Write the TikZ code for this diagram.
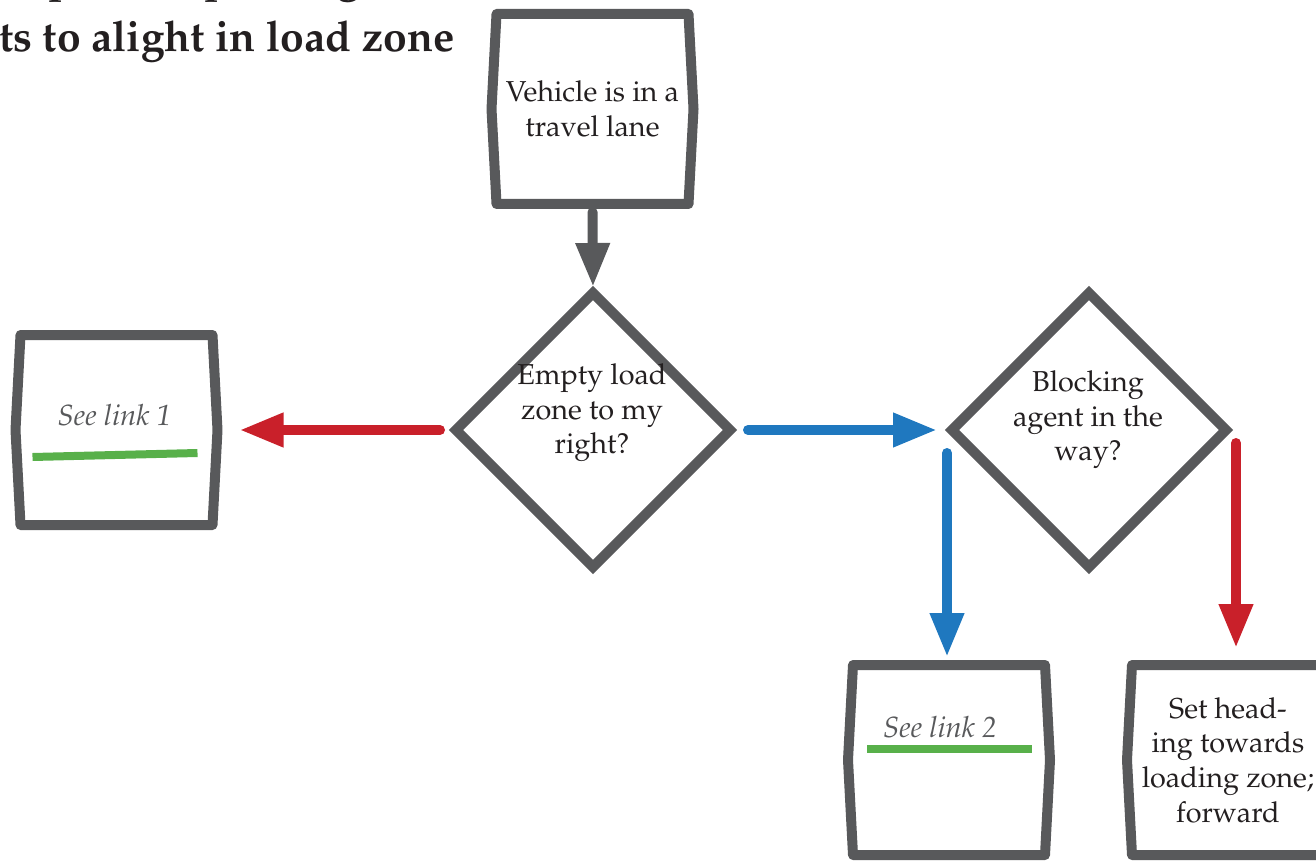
\documentclass[tikz,border=0pt]{standalone}
\usepackage[T1]{fontenc}
\renewcommand{\rmdefault}{ppl}
\usetikzlibrary{shapes.geometric,arrows.meta,calc}
\definecolor{boxgray}{HTML}{58595B}
\definecolor{yesblue}{HTML}{1F78BF}
\definecolor{nored}{HTML}{C9202A}
\definecolor{linkgreen}{HTML}{58B04A}
\definecolor{inkblack}{HTML}{231F20}
\tikzset{
  procbox/.style={rectangle, minimum width=96pt, minimum height=95pt, inner sep=0pt, outer sep=0pt,
    align=center, text=inkblack, font=\fontsize{14.4}{17.3}\selectfont},
  boxline/.style={draw=boxgray, line width=5pt, line join=round},
  decision/.style={diamond, draw=boxgray, line width=5pt, minimum width=137pt, minimum height=137pt,
    inner sep=0pt, outer sep=0pt},
  dectext/.style={align=center, inner sep=0pt, text=inkblack, font=\fontsize{14.4}{17.3}\selectfont},
  linktext/.style={inner sep=0pt, text=boxgray, font=\fontsize{14.6}{16}\selectfont\itshape},
  linkbar/.style={draw=linkgreen, line width=4pt},
  flow/.style={line width=5pt, line cap=round, -{Triangle[width=16pt,length=22pt]}},
  titletext/.style={align=center, inner sep=0pt, text=inkblack, font=\fontsize{21.3}{25}\selectfont\bfseries}
}
\begin{document}
\begin{tikzpicture}[x=0.5pt,y=-0.5pt]
\useasboundingbox (0,0) rectangle (1316,861);
\clip (0,0) rectangle (1316,861);
% title, cut by the page
\node[titletext, anchor=base east] (title) at (455,52) {(2) Stop when passenger\\[5.3pt]requests to alight in load zone};
% boxes and decisions
\node[procbox] (vlane) at (592.5,109) {Vehicle is in a\\travel lane};
\node[decision] (empty) at (593,430) {};
\node[dectext] (emptytxt) at (592,413) {Empty load\\zone to my\\right?};
\node[decision] (block) at (1089,430) {};
\node[dectext] (blocktxt) at (1088,420) {Blocking\\agent in the\\way?};
\node[procbox] (link1) at (116.5,430) {};
\node[procbox] (link2) at (949,760) {};
\node[procbox] (heading) at (1228,760) {Set head-\\ing towards\\loading zone;\\forward};
\foreach \b in {vlane,link1,link2,heading}
  \draw[boxline] (\b.north west) -- (\b.north east) -- ($(\b.east)+(5,0)$) -- (\b.south east)
    -- (\b.south west) -- ($(\b.west)+(-5,0)$) -- cycle;
% link labels
\node[linktext, anchor=base] (link1txt) at ($(link1.center)+(-2,-5)$) {See link 1};
\draw[linkbar] ($(link1.center)+(-84,27)$) -- ($(link1.center)+(81,23)$);
\node[linktext, anchor=base] (link2txt) at ($(link2.center)+(-9,-23)$) {See link 2};
\draw[linkbar] ($(link2.center)+(-82,-11)$) -- ($(link2.center)+(83,-11)$);
% connectors
\coordinate (yesdown) at (947,453);
\coordinate (nodown) at (1236,443);
\draw[flow, boxgray, shorten <=4pt, shorten >=3pt] (vlane.south) -- (empty.north);
\draw[flow, nored, shorten <=8pt, shorten >=13.5pt] (empty.west) -- (link1.east);
\draw[flow, yesblue, shorten <=9pt, shorten >=7.5pt] (empty.east) -- (block.west);
\draw[flow, yesblue, shorten >=4pt] (yesdown) -- (yesdown |- link2.north);
\draw[flow, nored, shorten >=8.5pt] (nodown) -- (nodown |- heading.north);
\end{tikzpicture}
\end{document}
